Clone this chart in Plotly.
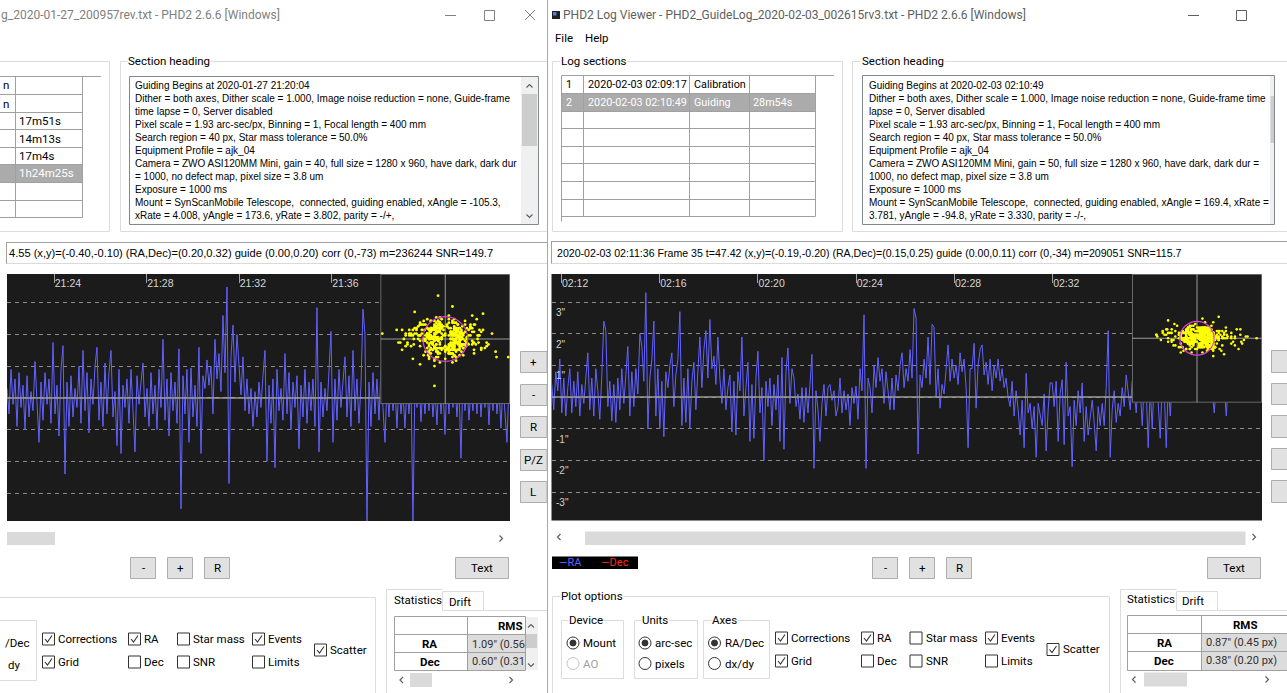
import math
import pandas as pd
import plotly.graph_objects as go

W, H = 1287, 693

# ---------------------------------------------------------------- data
# RA guide error (arc-sec) over the visible time window of each log section
RA_LEFT = [
    0.3, -0.5, 0.9, -0.2, 0.6, -0.9, 0.8, -0.3, 0.4, -1.0,
    0.7, -0.6, 0.2, -0.4, 1.15, -0.3, -1.4, 0.5, -0.7, 0.8,
    -0.2, 0.6, -0.8, 1.75, -0.5, 0.4, -1.2, 0.9, 1.65, -2.4,
    0.5, -0.9, 0.7, -0.6, 0.3, -0.3, 1.0, -0.8, 1.5, -0.4,
    0.8, -1.1, 0.6, -0.2, 1.0, 1.6, -0.7, 0.5, -0.9, 1.1,
    -0.5, 0.8, 1.5, -0.6, 0.2, -1.5, 0.9, -1.75, 0.4, -0.3,
    0.6, -0.8, 0.9, -0.4, -1.7, 0.7, -0.2, 0.5, 1.1, -0.6,
    0.3, -0.9, 0.8, -0.5, 0.4, -1.0, 0.9, -0.3, 1.85, -0.7,
    0.6, -1.2, 0.8, -0.4, 0.5, -0.8, 1.55, -3.5, 0.7, -0.5,
    0.9, -1.4, 0.95, -0.6, 0.4, -0.9, 1.6, -1.75, 0.7, 0.3,
    1.2, 0.4, 1.0, -0.5, 1.85, 0.6, 1.4, 0.2, 2.6, 0.8,
    3.5, -2.7, 1.3, 2.3, 0.5, 2.0, 0.9, 0.1, 1.3, -0.4,
    0.6, -0.5, 0.3, -0.9, 0.2, -0.6, 0.5, -0.3, 0.7, 1.5,
    -2.0, 0.4, -0.8, 0.6, -2.2, 0.9, -0.4, 0.3, -0.7, 1.4,
    -0.5, 0.8, -1.0, 0.5, -0.3, 0.7, -1.6, 0.4, -0.6, 0.9,
    -0.8, 0.5, -0.4, 0.6, -0.9, 2.85, -1.7, 0.5, -0.6, 0.3,
    -0.4, 0.8, 2.1, -1.4, 0.6, -0.7, 0.9, -0.3, 0.5, 1.3,
    -0.6, 0.7, -0.9, 1.5, -0.4, 0.6, -0.8, 0.4, 2.8, 2.0,
    -4.0, 0.5, -0.9, 0.8, -0.5, 0.6, -0.7, 0.9, -0.3, -1.4,
    0.5, -0.6, 0.7, -0.4, 0.3, -0.95, 0.6, -0.5, 0.2, -0.95,
    0.4, -0.5, 0.6, -4.0, 0.5, -0.3, 0.7, -0.75, 0.4, -0.5,
    0.6, -0.4, 0.5, -0.6, 0.3, -0.85, 0.7, -0.5, 0.4, -1.15,
    0.6, -0.5, 0.8, -0.3, 0.5, -0.6, 0.4, -1.9, 0.7, -0.4,
    0.5, -0.7, 0.3, -0.4, 0.6, -0.5, 0.8, -0.6, 0.4, -0.3,
    0.5, -0.85, 0.6, -0.4, 0.7, -0.5, 0.3, -0.95, 0.5, -0.6,
    -1.4, 0.4,
]
DEC_LEFT = [
    0.3, -0.5, 0.1, 0.7, -0.2, -0.8, 0.4, 0.0, -0.3, 0.6, -0.6, 0.2,
    0.9, -0.1, -0.4, 0.5, 0.2, -0.9, 0.1, 0.6, -0.5, 0.3, -0.2, 1.1,
    -0.7, 0.4, 0.0, -0.3, 0.8, -0.6, 0.2, -1.0, 0.5, 0.1, -0.4, 0.7,
    0.2, -0.5, 1.3, -0.1, 0.3, -0.7, 0.6, 0.0, -0.9, 0.4, -0.2, 0.5,
    -0.3, 0.8, -0.6, 0.1, 0.4, -1.2, 0.2, 0.7, -0.4, 0.0, 0.9, -0.5,
    0.3, -0.8, 0.5, -0.1, 1.5, -0.3, 0.1, -0.6, 0.4, 0.8, -0.2, -1.1,
    0.6, 0.0, -0.4, 0.3, -0.7, 0.9, 0.2, -0.3, 0.5, -0.9, 0.1, 0.4,
    -0.5, 1.0, -0.2, 0.3, -0.6, 0.6, 0.0, -1.4, 0.7, -0.1, 0.2, -0.4,
    0.8, -0.3, 0.5, -0.8, 0.1, 0.4, -0.5, 1.2, -0.2, 0.0, 0.6, -0.7,
    0.3, -0.1, -1.0, 0.5, 0.2, -0.4, 0.9, -0.6, 0.1, 0.7, -0.3, 2.4,
    -0.2, 0.4, -0.8, 0.0, 0.6, -0.5, 0.3, -1.3, 0.8, -0.1, 0.2, -0.6,
    0.5, 0.9, -0.4, 0.1, -0.7, 0.4, -0.2, 0.7, 0.0, -0.9, 0.3, 1.1,
    -0.5, 0.2, 0.6, -0.3, -2.6, 0.4, 0.1, -0.6, 0.8, -0.2, 0.5, -1.0,
    0.3, -0.4, 0.7, 0.0, -0.8, 0.2, 1.4, -0.1, 0.4, -0.6, 0.1, 0.9,
    -0.3, 0.5, -1.1, 0.2, 0.0, 0.6, -0.5, 0.3, -0.2, 1.0, -0.7, 0.4,
    0.1, -0.9, 0.5, -0.3, 0.7, 0.2, -0.6, 0.0, 0.8, -0.4, 0.3, -1.5,
    0.6, -0.1, 0.4, -0.7, 0.2, 0.9, -0.3, 0.1, -0.8, 0.5, 0.0, 0.3,
    -0.4, 1.2, -0.2, 0.6, -0.5, 0.1, 0.4, -1.0, 0.7, -0.1, 0.2, -0.6,
    0.8, -0.3, 0.0, 0.5, -0.7, 0.3, -0.2, 0.9, -0.5, 0.1, 1.8, -0.4,
    0.2, -0.8, 0.6, 0.0, -0.3, 0.4, -1.2, 0.7, 0.1, -0.5, 0.3, 0.5,
    -0.1, 0.4, -0.6, 0.8, -0.2, 0.0, 0.6, -0.9, 0.3, -0.4, 0.9, -0.2,
]
# further frames of the left section (outside the plotted window), RA / Dec
FRAMES_RA_LEFT = [
    -0.6, 0.2, -1.0, 0.5, -0.3, 0.9, -0.8, 0.0, 0.4, -1.2, 0.7, -0.1,
    -0.5, 1.0, -0.9, 0.3, -0.2, 0.6, -1.1, 0.1, 0.8, -0.4, -0.7, 0.5,
    0.2, -1.3, 0.4, -0.6, 1.1, -0.1, -0.9, 0.7, -0.3, 0.0, 0.9, -0.8,
    -0.2, 0.6, -1.0, 0.3, -0.5, 1.2, -0.7, 0.1, 0.5, -0.4, -1.1, 0.8,
    0.0, -0.6, 0.4, -0.9, 0.7, -0.2, 1.0, -1.2, 0.2, -0.5, 0.6, -0.8,
    -0.3, 0.9, -0.7, 0.1, -1.0, 0.5, -0.1, 0.8, -0.4, 0.3, -0.9, 1.1,
    0.4, -0.6, 0.0, -1.1, 0.6, -0.3, 0.2, -0.8, 0.9, -0.5, 0.7, -0.2,
    -1.0, 0.3, -0.4, 1.0, -0.7, 0.1, 0.5, -0.9, 0.2, -0.6, 0.8, -0.1,
    -1.6, 0.4, -2.2, 1.1, -0.7, 1.8, -1.3, 0.0, 0.9, -2.5, 1.4, -0.3,
    -1.0, 2.0, -1.9, 0.6, -0.5, 1.2, -2.1, 0.2, 1.6, -0.9, -1.4, 1.0,
    0.3, -2.4, 0.8, -1.2, 2.2, -0.2, -1.8, 1.4, -0.6, 0.1, 1.9, -1.5,
    -0.4, 1.2, -2.0, 0.6, -1.1, 2.4, -1.5, 0.2, 1.0, -0.8, -2.3, 1.6,
    0.0, -1.2, 0.8, -1.8, 1.5, -0.4, 2.1, -2.6, 0.4, -1.0, 1.2, -1.6,
    -0.6, 1.8, -1.4, 0.2, -2.0, 1.0, -0.2, 1.7, -0.8, 0.6, -1.9, 2.3,
    0.8, -1.3, 0.0, -2.2, 1.2, -0.6, 0.4, -1.7, 1.9, -1.0, 1.4, -0.4,
    -2.1, 0.6, -0.8, 2.0, -1.4, 0.2, 1.0, -1.8, 0.4, -1.2, 1.6, -0.2,
]
FRAMES_DEC_LEFT = [
    0.3, -0.4, 0.1, 0.6, -0.2, 0.0, 0.5, -0.7, 0.2, -0.1, 0.4, -0.5,
    0.7, -0.3, 0.2, 0.0, -0.6, 0.4, -0.1, 0.8, -0.4, 0.1, 0.5, -0.2,
    -0.5, 0.3, 0.0, 0.6, -0.3, 0.2, -0.7, 0.1, 0.4, -0.4, 0.3, 0.0,
    0.6, -0.1, 0.2, -0.6, 0.5, -0.2, 0.1, 0.7, -0.3, 0.4, 0.0, -0.5,
    0.2, 0.5, -0.4, 0.1, -0.2, 0.6, 0.3, -0.1, -0.8, 0.4, 0.0, 0.2,
    -0.3, 0.1, 0.5, -0.5, 0.3, 0.0, 0.7, -0.2, 0.4, -0.6, 0.1, -0.1,
    0.0, 0.3, -0.4, 0.2, -0.1, 0.6, -0.5, 0.4, 0.1, -0.3, 0.5, 0.0,
    -0.2, 0.4, 0.6, -0.3, 0.1, -0.5, 0.2, 0.3, -0.6, 0.0, -0.1, 0.5,
    0.5, -0.6, 0.2, 1.0, -0.3, 0.0, 0.8, -1.1, 0.3, -0.2, 0.6, -0.8,
    1.1, -0.5, 0.3, 0.0, -1.0, 0.6, -0.2, 1.3, -0.6, 0.2, 0.8, -0.3,
    -0.8, 0.5, 0.0, 1.0, -0.5, 0.3, -1.1, 0.2, 0.6, -0.6, 0.5, 0.0,
    1.0, -0.2, 0.3, -1.0, 0.8, -0.3, 0.2, 1.1, -0.5, 0.6, 0.0, -0.8,
    0.3, 0.8, -0.6, 0.2, -0.3, 1.0, 0.5, -0.2, -1.3, 0.6, 0.0, 0.3,
    -0.5, 0.2, 0.8, -0.8, 0.5, 0.0, 1.1, -0.3, 0.6, -1.0, 0.2, -0.2,
    0.0, 0.5, -0.6, 0.3, -0.2, 1.0, -0.8, 0.6, 0.2, -0.5, 0.8, 0.0,
    -0.3, 0.6, 1.0, -0.5, 0.2, -0.8, 0.3, 0.5, -1.0, 0.0, -0.2, 0.8,
]
RA_RIGHT = [
    0.4, -0.4, 0.8, 0.2, 1.2, -0.5, 0.6, -0.6, 0.3, 0.9,
    -0.5, 0.5, -0.3, 0.8, -0.6, 0.4, -0.2, 0.5, 1.4, -0.4,
    0.6, -0.6, 0.9, 0.2, -0.7, 0.7, 2.4, 2.1, -0.3, 0.5,
    -0.75, 0.4, -0.8, 0.6, -0.4, 0.9, -0.2, 0.7, 1.6, -0.6,
    0.8, -0.3, 0.9, 0.1, 2.0, 1.6, 0.5, 3.3, -1.0, 0.6,
    1.2, 2.4, -0.6, 0.9, -1.0, 0.5, -1.25, 0.8, 0.3, 1.0,
    1.4, -0.3, 0.7, 1.2, 2.7, -0.9, 0.6, -0.8, 0.9, -1.0,
    0.5, 1.1, -0.4, 0.8, 1.9, 0.3, 1.5, 2.1, 0.6, 2.45,
    0.9, 1.3, 0.4, 1.9, 0.6, -0.2, 0.9, -0.4, 0.3, 0.7,
    -1.1, 0.5, -1.2, 0.8, 0.2, 1.9, -0.6, 0.3, 1.1, -1.4,
    0.4, -1.3, 0.6, 1.45, -0.5, 0.3, -2.0, 0.5, -0.3, 0.6,
    -0.9, 0.4, -0.4, 0.7, -1.4, 1.25, -1.65, 0.8, 1.55, -0.2,
    0.9, 0.6, -0.3, 0.1, -0.7, 0.3, -0.8, 0.3, -0.5, 0.4,
    1.35, -2.25, 0.2, -0.4, -1.4, -0.2, 0.4, -0.6, 0.3, 0.4,
    -0.1, 0.2, -0.6, -0.3, 0.6, -0.5, 0.2, -0.4, 0.1, -0.9,
    0.3, -0.2, 0.35, -0.7, 0.9, 0.2, 2.6, -2.25, 0.6, 0.3,
    -0.5, 1.0, 0.3, 1.25, 0.5, 0.9, -0.2, 0.8, 0.1, -0.4,
    0.6, -0.4, 0.7, 0.2, 1.0, 1.4, 0.3, 0.9, 0.5, 1.5,
    0.6, 2.8, 2.5, -1.8, 0.7, 0.3, 1.2, 0.6, 1.9, 0.4,
    2.3, 2.2, 0.0, 0.9, -0.35, 0.4, 0.1, 0.8, 1.65, 0.5,
    1.2, 0.6, 1.0, 0.4, 1.4, 0.8, 1.2, 0.3, -1.6, 0.9,
    0.9, 1.7, -0.35, 1.0, 1.5, 1.65, 0.7, 1.1, 0.4, 1.2,
    0.2, 1.0, 0.6, 1.2, 0.5, 0.9, 0.3, 0.6, 0.0, -0.3,
    0.5, -0.6, 0.2, -0.4, -1.2, -0.1, -1.6, 0.75, -0.5, -0.2,
    -1.0, -0.3, -1.9, -0.2, -0.5, -0.9, 0.1, -1.7, -0.4, 0.45,
    0.45, -0.3, 0.5, -1.4, 0.1, 0.55, -1.5, 1.1, -0.6, -0.3,
    -2.2, -0.1, -0.9, 0.2, -0.5, 0.45, -1.4, -0.3, -1.2, -0.6,
    -0.1, -0.8, -1.7, -0.3, -0.9, -0.2, -0.9, 0.3, 2.1, -1.9,
    -0.4, 0.2, -0.8, -0.2, -0.6, 0.3, -0.3, 0.7, 0.2, -0.4,
    0.5, 0.2, -0.5, 0.6, 0.3, -0.9, 0.4, 0.2, -1.6, 0.3,
    -1.0, 0.6, 0.3, -0.2, -1.3, 0.5, 0.2, -1.6, 0.4, -0.6,
    0.5, 0.2, 0.8, 0.4, 0.1, 0.6, 0.3, 0.9, 0.2, 0.5,
    0.7, 0.3, 0.1, 0.6, 0.4, 0.9, 0.2, 0.5, 0.3, 0.7,
    0.1, -0.5, 0.4, 0.6, 0.2, 0.8, 0.3, -0.6, 0.5, 0.2,
    0.6, 0.3, 0.8, 0.4, 0.2, 0.5,
]
DEC_RIGHT = [
    0.2, -0.3, 0.5, 0.0, -0.1, 0.4, -0.5, 0.3, 0.1, -0.2, 0.6, -0.4,
    0.1, 0.3, -0.6, 0.2, 0.0, -0.3, 0.4, 0.7, -0.2, 0.1, -0.5, 0.3,
    -0.1, 0.5, 0.2, -0.4, 0.0, 0.3, -0.7, 0.1, 0.4, -0.2, 0.2, 0.9,
    -0.3, 0.0, 0.4, -0.1, 0.2, -0.5, 0.3, 0.1, -0.2, 0.6, -0.4, 0.0,
    0.3, -0.6, 0.1, 0.5, -0.2, 0.0, 0.2, -0.3, 0.8, -0.1, 0.4, -0.5,
    0.0, 0.2, -0.4, 0.3, 0.1, -0.8, 0.5, -0.1, 0.2, 0.0, -0.3, 0.4,
    0.6, -0.2, 0.1, -0.5, 0.3, 0.0, 0.4, -0.2, -1.0, 0.2, 0.1, -0.3,
    0.5, 0.0, -0.1, 0.3, -0.4, 0.2, 0.7, -0.3, 0.1, -0.6, 0.4, 0.0,
    -0.2, 0.3, 0.1, -0.1, 0.5, -0.4, 0.2, 0.0, -0.3, 1.1, -0.1, 0.3,
    0.2, -0.5, 0.0, 0.4, -0.2, 0.1, 0.3, -0.6, 0.5, -0.1, 0.0, 0.2,
    -0.3, 0.6, -0.1, 0.2, 0.0, -0.4, 0.3, 0.1, -0.2, 0.4, -0.7, 0.2,
    0.1, -0.2, 0.5, -0.3, 0.0, 0.3, -0.1, 0.2, 0.8, -0.4, 0.1, -0.2,
    0.4, 0.0, -0.5, 0.2, 0.1, -0.3, 0.6, -0.1, 0.3, 0.0, -0.6, 0.4,
    -0.1, 0.2, 0.3, -0.8, 0.5, 0.0, -0.2, 0.4, 0.1, -0.3, 0.2, 0.7,
    0.0, -0.4, 0.2, 0.3, -0.1, 0.5, -0.5, 0.1, 0.0, 0.3, -0.2, -0.9,
    0.4, 0.1, -0.3, 0.2, 0.6, -0.1, 0.0, -0.4, 0.3, 0.2, -0.6, 0.5,
    -0.2, 0.3, 0.1, -0.5, 0.4, 0.0, 0.2, -0.1, 1.2, -0.3, 0.1, 0.4,
    -0.4, 0.2, 0.0, 0.5, -0.2, 0.3, -0.7, 0.1, 0.4, -0.1, 0.2, 0.0,
    0.3, -0.3, 0.6, -0.1, 0.1, -0.5, 0.2, 0.4, -0.2, 0.0, 0.5, -0.4,
    0.1, 0.7, -0.3, 0.2, 0.0, -0.2, 0.4, -0.6, 0.3, 0.1, -0.1, 0.5,
    -0.5, 0.0, 0.3, -0.2, 0.6, 0.1, -0.4, 0.2, 0.0, 0.9, -0.3, 0.1,
    0.4, -0.1, 0.2, -0.7, 0.3, 0.0, 0.5, -0.3, 0.1, 0.2, -0.5, 0.3,
    0.0, 0.6, -0.2, 0.1, -0.4, 0.3, 0.2, -0.1, 0.5, -0.8, 0.0, 0.2,
    0.3, -0.3, 0.1, 0.4, -0.6, 0.2, 0.0, 0.7, -0.2, 0.1, 0.3, -0.4,
    -0.1, 0.2, 0.5, -0.5, 0.0, 0.3, -0.2, 0.1, 0.4, -0.3, 1.0, 0.0,
    0.2, -0.4, 0.3, 0.1, -0.1, 0.6, -0.3, 0.0, 0.2, -0.6, 0.4, 0.1,
    -0.2, 0.5, 0.0, -0.4, 0.3, 0.2, -0.1, 0.4, -0.5, 0.1, 0.0, 0.3,
    0.6, -0.2, 0.1, 0.3, -0.3, 0.0, 0.5, -0.1, 0.2, -0.4, 0.3, 0.1,
    -0.3, 0.4, 0.0, 0.2, -0.5, 0.1, 0.3, -0.2, 0.6, 0.0,
]
FRAMES_RA_RIGHT = [
    0.3, -0.5, 0.7, -0.1, 0.5, -0.8, 0.1, 0.9, -0.3, 0.4, -0.6, 0.2,
    0.8, -0.2, 0.0, -0.7, 0.6, 0.3, -0.4, 1.0, -0.9, 0.2, 0.5, -0.1,
    -0.5, 0.7, 0.1, -0.3, 0.9, -0.6, 0.4, 0.0, -0.8, 0.6, 0.2, -0.2,
    0.5, -0.4, 0.8, 0.1, -0.7, 0.3, -0.1, 0.7, -0.5, 0.9, 0.0, -0.3,
    0.2, 0.6, -0.6, 0.4, -0.2, 1.1, -0.4, 0.1, 0.7, -0.8, 0.3, 0.5,
    -0.1, 0.8, -0.5, 0.0, 0.4, -0.3, 0.6, 0.2, -0.7, 0.9, -0.2, 0.3,
    0.7, -0.6, 0.1, 0.5, -0.4, 0.0, 0.8, -0.1, 0.3, -0.8, 0.6, 0.2,
    -0.3, 0.4, 1.0, -0.5, 0.2, 0.7, -0.2, 0.5, -0.6, 0.1, 0.3, -0.1,
]
FRAMES_DEC_RIGHT = [
    0.1, -0.3, 0.4, 0.0, -0.2, 0.3, -0.5, 0.2, 0.5, -0.1, 0.0, 0.3,
    -0.4, 0.2, 0.6, -0.2, 0.1, -0.5, 0.3, 0.0, 0.2, -0.3, 0.4, -0.1,
    0.5, -0.2, 0.0, 0.3, -0.4, 0.1, 0.2, -0.6, 0.4, 0.0, -0.1, 0.5,
    -0.3, 0.2, 0.1, -0.5, 0.3, 0.6, -0.2, 0.0, 0.4, -0.4, 0.2, 0.1,
    0.0, -0.1, 0.3, 0.5, -0.3, 0.2, -0.6, 0.4, 0.1, 0.0, -0.2, 0.3,
    0.4, -0.5, 0.0, 0.2, 0.1, -0.3, 0.5, -0.1, 0.3, 0.0, -0.4, 0.2,
    -0.2, 0.3, 0.6, -0.1, 0.0, 0.4, -0.3, 0.1, 0.2, -0.5, 0.0, 0.3,
    0.5, -0.2, 0.1, 0.3, -0.4, 0.0, 0.2, -0.1, 0.4, -0.3, 0.1, 0.0,
]

# frame clock of each section (start time, seconds per sample)
LEFT_T0, LEFT_DT = "2020-01-27 21:21:57.3", 5.19
RIGHT_T0, RIGHT_DT = "2020-02-03 02:11:36.3", 4.89
LEFT_WINDOW = ["2020-01-27 21:21:57.3", "2020-01-27 21:43:42.7"]
RIGHT_WINDOW = ["2020-02-03 02:11:35.6", "2020-02-03 02:40:31.5"]
LEFT_TICK0 = "2020-01-27 21:24:00"
RIGHT_TICK0 = "2020-02-03 02:12:00"
GRID_LABELS = [3, 2, 1, -1, -2, -3]

# RMS statistics: arc-sec and pixels
STATS_LEFT = {"RA": (1.09, 0.56), "Dec": (0.60, 0.31)}
STATS_RIGHT = {"RA": (0.87, 0.45), "Dec": (0.38, 0.20)}

LEFT_SECTIONS = ["17m51s", "14m13s", "17m4s", "1h24m25s"]
RIGHT_SECTIONS = [
    ("1", "2020-02-03 02:09:17", "Calibration", ""),
    ("2", "2020-02-03 02:10:49", "Guiding", "28m54s"),
]
HEADING_LEFT = [
    "Guiding Begins at 2020-01-27 21:20:04",
    "Dither = both axes, Dither scale = 1.000, Image noise reduction = none, Guide-frame",
    "time lapse = 0, Server disabled",
    "Pixel scale = 1.93 arc-sec/px, Binning = 1, Focal length = 400 mm",
    "Search region = 40 px, Star mass tolerance = 50.0%",
    "Equipment Profile = ajk_04",
    "Camera = ZWO ASI120MM Mini, gain = 40, full size = 1280 x 960, have dark, dark dur",
    "= 1000, no defect map, pixel size = 3.8 um",
    "Exposure = 1000 ms",
    "Mount = SynScanMobile Telescope,  connected, guiding enabled, xAngle = -105.3,",
    "xRate = 4.008, yAngle = 173.6, yRate = 3.802, parity = -/+,",
]
HEADING_RIGHT = [
    "Guiding Begins at 2020-02-03 02:10:49",
    "Dither = both axes, Dither scale = 1.000, Image noise reduction = none, Guide-frame time",
    "lapse = 0, Server disabled",
    "Pixel scale = 1.93 arc-sec/px, Binning = 1, Focal length = 400 mm",
    "Search region = 40 px, Star mass tolerance = 50.0%",
    "Equipment Profile = ajk_04",
    "Camera = ZWO ASI120MM Mini, gain = 50, full size = 1280 x 960, have dark, dark dur =",
    "1000, no defect map, pixel size = 3.8 um",
    "Exposure = 1000 ms",
    "Mount = SynScanMobile Telescope,  connected, guiding enabled, xAngle = 169.4, xRate =",
    "3.781, yAngle = -94.8, yRate = 3.330, parity = -/-,",
]
STATUS_LEFT = "4.55 (x,y)=(-0.40,-0.10) (RA,Dec)=(0.20,0.32) guide (0.00,0.20) corr (0,-73) m=236244 SNR=149.7"
STATUS_RIGHT = ("2020-02-03 02:11:36 Frame 35 t=47.42 (x,y)=(-0.19,-0.20) (RA,Dec)=(0.15,0.25) "
                "guide (0.00,0.11) corr (0,-34) m=209051 SNR=115.7")

# ---------------------------------------------------------------- styling
UI = "Roboto"
TXT = "Liberation Sans"
RA_COLOR = "#6262ff"
DEC_COLOR = "#ff2a1a"
PLOT_BG = "#1b1b1b"
BTN_FILL, BTN_LINE = "#e1e1e1", "#adadad"
GROUP_LINE = "#dcdcdc"
GRID_LINE = "#a0a0a0"

shapes, annos = [], []


def X(px):
    return px / W


def Y(py):
    return 1 - py / H


def rect(x0, y0, x1, y1, fill="rgba(0,0,0,0)", line=None, lw=1):
    shapes.append(dict(type="rect", xref="paper", yref="paper",
                       x0=X(x0), x1=X(x1), y0=Y(y1), y1=Y(y0), fillcolor=fill,
                       line=dict(color=line or "rgba(0,0,0,0)", width=lw if line else 0),
                       layer="above"))


def seg(x0, y0, x1, y1, color=GRID_LINE, lw=1):
    shapes.append(dict(type="line", xref="paper", yref="paper",
                       x0=X(x0), y0=Y(y0), x1=X(x1), y1=Y(y1),
                       line=dict(color=color, width=lw), layer="above"))


def poly(points, color, lw=1.0):
    path = "M " + " L ".join(f"{X(a):.6f},{Y(b):.6f}" for a, b in points)
    shapes.append(dict(type="path", xref="paper", yref="paper", path=path,
                       line=dict(color=color, width=lw), layer="above"))


def circle(cx, cy, r, fill, line, lw=1):
    shapes.append(dict(type="circle", xref="paper", yref="paper",
                       x0=X(cx - r), x1=X(cx + r), y0=Y(cy + r), y1=Y(cy - r),
                       fillcolor=fill, line=dict(color=line, width=lw), layer="above"))


def text(x, y, s, size=11.5, color="#000000", family=UI, anchor="left", bg=None):
    d = dict(xref="paper", yref="paper", x=X(x), y=Y(y), text=s, showarrow=False,
             xanchor=anchor, yanchor="middle", borderpad=0,
             font=dict(family=family, size=size, color=color))
    if bg:
        d["bgcolor"] = bg
    annos.append(d)


def chevron(cx, cy, d, color="#606060", s=3.0):
    pts = {
        "up": [(cx - s, cy + s / 2), (cx, cy - s / 2), (cx + s, cy + s / 2)],
        "down": [(cx - s, cy - s / 2), (cx, cy + s / 2), (cx + s, cy - s / 2)],
        "left": [(cx + s / 2, cy - s), (cx - s / 2, cy), (cx + s / 2, cy + s)],
        "right": [(cx - s / 2, cy - s), (cx + s / 2, cy), (cx - s / 2, cy + s)],
    }[d]
    poly(pts, color, 1.2)


def button(x0, y0, x1, y1, label, cx=None):
    rect(x0, y0, x1, y1, BTN_FILL, BTN_LINE)
    text(cx if cx is not None else (x0 + x1) / 2, (y0 + y1) / 2, label, 11.5, anchor="center")


def checkbox(bx, cy, label, checked):
    rect(bx + 0.5, cy - 5.5, bx + 12.5, cy + 6.5, "#ffffff", "#333333")
    if checked:
        poly([(bx + 3, cy + 0.5), (bx + 5.5, cy + 3.5), (bx + 10, cy - 3)], "#333333", 1.1)
    text(bx + 15, cy, label)


def radio(cx, cy, label, on, enabled=True):
    col = "#333333" if enabled else "#c4c4c4"
    circle(cx, cy, 6, "#ffffff", col)
    if on:
        circle(cx, cy, 3, col, col)
    text(cx + 9, cy, label, color="#000000" if enabled else "#a0a0a0")


def group(x0, y0, x1, y1, label=None, lx=None):
    rect(x0, y0, x1, y1, line=GROUP_LINE)
    if label:
        text(lx, y0 - 0.5, label, bg="#ffffff")


# ---------------------------------------------------------------- left window
text(0, 15, "g_2020-01-27_200957rev.txt - PHD2 2.6.6 [Windows]", 12, "#808080")
seg(445, 15.5, 456, 15.5, "#808080")
rect(484.5, 10.5, 494.5, 20.5, line="#808080")
seg(525, 10, 535, 20, "#808080")
seg(525, 20, 535, 10, "#808080")

rect(-5, 61.5, 109.5, 231.5, line=GROUP_LINE)
rect(0, 164.5, 82.5, 182.5, "#ababab")
seg(0, 76.5, 101, 76.5)
seg(15.5, 76.5, 15.5, 217.5)
seg(82.5, 76.5, 82.5, 217.5)
for yy in [94.5, 112.5, 129.5, 147.5, 164.5, 182.5, 200.5, 217.5]:
    seg(0, yy, 82.5, yy)
text(2, 85.5, "n")
text(2, 103.5, "n")
for k, lab in enumerate(LEFT_SECTIONS):
    sel = k == len(LEFT_SECTIONS) - 1
    text(18, [121, 138.5, 156, 173.5][k], lab, color="#ffffff" if sel else "#000000")

seg(120.5, 61.5, 547, 61.5, GROUP_LINE)
seg(120.5, 61.5, 120.5, 231.5, GROUP_LINE)
seg(120.5, 231.5, 547, 231.5, GROUP_LINE)
text(127, 60.5, "Section heading", bg="#ffffff")
rect(129.5, 76.5, 538.5, 224.5, "#ffffff", "#828790")
rect(521, 77, 538, 224, "#f0f0f0")
rect(522, 94, 537, 146, "#cdcdcd")
chevron(529.5, 86, "up")
chevron(529.5, 216, "down")
for k, line in enumerate(HEADING_LEFT):
    text(134, 85.5 + 13.0 * k, line, 10, "#000000", TXT)

seg(6, 242.5, 547, 242.5, "#a0a0a0")
seg(6, 263.5, 547, 263.5, "#dadada")
seg(6.5, 242.5, 6.5, 263.5, "#a0a0a0")
text(8, 253, STATUS_LEFT, 11.1, "#000000", TXT)

for y0, y1, lab in [(351, 372, "+"), (384, 405, "-"), (416, 437, "R"), (449, 470, "P/Z"), (481, 502, "L")]:
    button(520.5, y0 + 0.5, 547, y1 + 0.5, lab, cx=533)

rect(7, 532, 55, 545, "#dadada")
chevron(501, 538.5, "right")

button(130.5, 557.5, 155.5, 578.5, "-")
button(167.5, 557.5, 192.5, 578.5, "+")
button(204.5, 557.5, 229.5, 578.5, "R")
button(455.5, 557.5, 508.5, 578.5, "Text")

seg(0, 597.5, 375.5, 597.5, GROUP_LINE)
seg(375.5, 597.5, 375.5, 693, GROUP_LINE)
seg(0, 620.5, 36.5, 620.5, GROUP_LINE)
seg(36.5, 620.5, 36.5, 680.5, GROUP_LINE)
seg(0, 680.5, 36.5, 680.5, GROUP_LINE)
text(4, 643, "/Dec")
text(7, 665, "dy")

checkbox(42, 638.5, "Corrections", True)
checkbox(42, 661.5, "Grid", True)
checkbox(128, 638.5, "RA", True)
checkbox(128, 661.5, "Dec", False)
checkbox(177, 638.5, "Star mass", False)
checkbox(177, 661.5, "SNR", False)
checkbox(252, 638.5, "Events", True)
checkbox(252, 661.5, "Limits", False)
checkbox(314, 649.5, "Scatter", True)

seg(386.5, 589.5, 442.5, 589.5, GROUP_LINE)
seg(386.5, 589.5, 386.5, 693, GROUP_LINE)
rect(442.5, 591.5, 483.5, 610.5, line=GROUP_LINE)
seg(483.5, 610.5, 547, 610.5, GROUP_LINE)
text(393, 599.5, "Statistics")
text(448, 601.5, "Drift")
rect(468, 635, 525, 652, "#dcdcdc")
rect(468, 653, 525, 670, "#dcdcdc")
rect(394.5, 616.5, 525.5, 670.5, line=GRID_LINE)
seg(394.5, 634.5, 525.5, 634.5)
seg(394.5, 652.5, 525.5, 652.5)
seg(467.5, 616.5, 467.5, 670.5)
text(524, 626, "<b>RMS</b>", anchor="right")
text(430, 644, "<b>RA</b>", anchor="center")
text(430, 661.5, "<b>Dec</b>", anchor="center")
for k, ax in enumerate(["RA", "Dec"]):
    asec, pix = STATS_LEFT[ax]
    text(471, [644, 661.5][k], f'{asec:.2f}" ({pix:.2f}', 11, "#303030")
rect(526, 617, 538, 670, "#f0f0f0")
rect(526, 634, 537, 648, "#cdcdcd")
chevron(531, 626, "up")
chevron(531, 665, "down")
chevron(401.5, 680, "left")
rect(410, 673, 432, 687, "#dadada")
chevron(511, 680, "right")

# border of the right-hand window
seg(547.5, 0, 547.5, 693, "#a8a8a8")

# ---------------------------------------------------------------- right window
rect(552, 11, 560, 19, "#202020")
rect(553, 12, 556.5, 15.5, "#4f7fd0")
text(562, 15, "PHD2 Log Viewer - PHD2_GuideLog_2020-02-03_002615rv3.txt - PHD2 2.6.6 [Windows]", 12, "#606060")
seg(1188, 15.5, 1199, 15.5, "#606060")
rect(1236.5, 10.5, 1246.5, 20.5, line="#606060")

text(553.5, 38, "File")
text(584, 38, "Help")

group(552.5, 61.5, 842.5, 231.5, "Log sections", 560)
rect(561.5, 93.5, 815.5, 111.5, "#ababab")
seg(561.5, 75.5, 834, 75.5)
for xx in [583.5, 689.5, 749.5, 815.5]:
    seg(xx, 75.5, xx, 216.5)
seg(561.5, 75.5, 561.5, 221.5)
for yy in [93.5, 111.5, 128.5, 146.5, 163.5, 181.5, 199.5, 216.5]:
    seg(561.5, yy, 815.5, yy)
for k, (num, when, kind, dur) in enumerate(RIGHT_SECTIONS):
    cy = [84.5, 102.5][k]
    col = "#ffffff" if k == 1 else "#000000"
    text(565, cy, num, 10.8, col)
    text(586.5, cy, when, 10.8, col)
    text(693, cy, kind, 10.8, col)
    if dur:
        text(752, cy, dur, 10.8, col)

seg(852.5, 61.5, 1287, 61.5, GROUP_LINE)
seg(852.5, 61.5, 852.5, 231.5, GROUP_LINE)
seg(852.5, 231.5, 1287, 231.5, GROUP_LINE)
text(861, 60.5, "Section heading", bg="#ffffff")
rect(862.5, 75.5, 1274.5, 224.5, "#ffffff", "#828790")
rect(1270, 76, 1274, 224, "#f0f0f0")
rect(1270.5, 96, 1274, 143, "#cdcdcd")
for k, line in enumerate(HEADING_RIGHT):
    text(868, 85.5 + 13.0 * k, line, 10, "#000000", TXT)

seg(551, 241.5, 1287, 241.5, "#a0a0a0")
seg(551, 263.5, 1287, 263.5, "#dadada")
seg(551.5, 241.5, 551.5, 263.5, "#a0a0a0")
text(556, 252.5, STATUS_RIGHT, 10.6, "#000000", TXT)

for y0, y1 in [(350, 372), (383, 404), (415, 437), (448, 469), (480, 502)]:
    rect(1271.5, y0 + 0.5, 1295, y1 + 0.5, BTN_FILL, BTN_LINE)

chevron(559, 537, "left")
rect(585, 531.5, 1245.5, 545, "#dadada")
chevron(1254, 537, "right")

rect(552, 556.5, 638, 569, "#000000")
text(558, 562.5, "—RA", 11, RA_COLOR)
text(600, 562.5, "—Dec", 11, DEC_COLOR)

button(872.5, 557.5, 897.5, 578.5, "-")
button(909.5, 557.5, 934.5, 578.5, "+")
button(946.5, 557.5, 971.5, 578.5, "R")
button(1207.5, 557.5, 1260.5, 578.5, "Text")

group(552.5, 596.5, 1109.5, 700, "Plot options", 560)
group(561.5, 620.5, 623.5, 678.5, "Device", 568)
radio(573, 643, "Mount", True)
radio(573, 663.5, "AO", False, enabled=False)
group(634.5, 620.5, 697.5, 678.5, "Units", 641)
radio(645, 643, "arc-sec", True)
radio(645, 663.5, "pixels", False)
group(703.5, 620.5, 769.5, 678.5, "Axes", 711)
radio(714.5, 643, "RA/Dec", True)
radio(714.5, 663.5, "dx/dy", False)

checkbox(775, 637.5, "Corrections", True)
checkbox(775, 660.5, "Grid", True)
checkbox(861, 637.5, "RA", True)
checkbox(861, 660.5, "Dec", False)
checkbox(909.5, 637.5, "Star mass", False)
checkbox(909.5, 660.5, "SNR", False)
checkbox(985, 637.5, "Events", True)
checkbox(985, 660.5, "Limits", False)
checkbox(1046.5, 649, "Scatter", True)

seg(1120.5, 589.5, 1176.5, 589.5, GROUP_LINE)
seg(1120.5, 589.5, 1120.5, 693, GROUP_LINE)
rect(1176.5, 591.5, 1217.5, 610.5, line=GROUP_LINE)
seg(1217.5, 610.5, 1287, 610.5, GROUP_LINE)
text(1126, 599, "Statistics")
text(1181, 601, "Drift")
rect(1202, 634, 1290, 651, "#dcdcdc")
rect(1202, 652, 1290, 670, "#dcdcdc")
rect(1127.5, 615.5, 1295, 670.5, line=GRID_LINE)
seg(1127.5, 633.5, 1287, 633.5)
seg(1127.5, 651.5, 1287, 651.5)
seg(1201.5, 615.5, 1201.5, 670.5)
text(1245, 624.5, "<b>RMS</b>", anchor="center")
text(1164, 642.5, "<b>RA</b>", anchor="center")
text(1164, 660.5, "<b>Dec</b>", anchor="center")
for k, ax in enumerate(["RA", "Dec"]):
    asec, pix = STATS_RIGHT[ax]
    text(1205, [642.5, 660.5][k], f'{asec:.2f}" ({pix:.2f} px)', 11, "#303030")
chevron(1134, 679.5, "left")
rect(1144, 672.5, 1187, 686.5, "#dadada")
chevron(1267, 679.5, "right")

# ---------------------------------------------------------------- plots
fig = go.Figure()

t_left = pd.date_range(LEFT_T0, periods=len(RA_LEFT), freq=pd.Timedelta(seconds=LEFT_DT))
t_right = pd.date_range(RIGHT_T0, periods=len(RA_RIGHT), freq=pd.Timedelta(seconds=RIGHT_DT))

SC = 3.6  # half-width of the scatter inset, arc-sec


def add_panel(ts, ra, dec, extra_ra, extra_dec, window, stats, n, msize):
    xa, ya = ("x", "y") if n == 1 else (f"x{n}", f"y{n}")
    xi, yi = f"x{n + 1}", f"y{n + 1}"
    fig.add_trace(go.Scatter(x=ts, y=ra, mode="lines", line=dict(color=RA_COLOR, width=1),
                             xaxis=xa, yaxis=ya, hoverinfo="skip", showlegend=False))
    fig.add_trace(go.Scatter(x=window, y=[0, 0], mode="lines", line=dict(color="#9c9c9c", width=1.5),
                             xaxis=xa, yaxis=ya, hoverinfo="skip", showlegend=False))
    # scatter inset: background, crosshair, RA/Dec points, RMS circle
    fig.add_trace(go.Scatter(x=[-SC, SC, SC, -SC, -SC], y=[-SC, -SC, SC, SC, -SC], mode="lines",
                             fill="toself", fillcolor=PLOT_BG, line=dict(color="#808080", width=1.5),
                             xaxis=xi, yaxis=yi, hoverinfo="skip", showlegend=False))
    fig.add_trace(go.Scatter(x=[-SC, SC, None, 0, 0], y=[0, 0, None, -SC, SC], mode="lines",
                             line=dict(color="#9a9a9a", width=1), xaxis=xi, yaxis=yi,
                             hoverinfo="skip", showlegend=False))
    pairs = list(zip(ra, dec)) + list(zip(extra_ra, extra_dec))
    fig.add_trace(go.Scatter(x=[p[0] for p in pairs], y=[p[1] for p in pairs], mode="markers",
                             marker=dict(color="#ffff00", size=msize, line=dict(width=0)),
                             xaxis=xi, yaxis=yi, hoverinfo="skip", showlegend=False, cliponaxis=True))
    r = math.hypot(stats["RA"][0], stats["Dec"][0])
    shapes.append(dict(type="circle", xref=xi, yref=yi, x0=-r, x1=r, y0=-r, y1=r,
                       line=dict(color="#e040e0", width=1.2), layer="above"))


add_panel(t_left, RA_LEFT, DEC_LEFT, FRAMES_RA_LEFT, FRAMES_DEC_LEFT, LEFT_WINDOW, STATS_LEFT, 1, 2.8)
add_panel(t_right, RA_RIGHT, DEC_RIGHT, FRAMES_RA_RIGHT, FRAMES_DEC_RIGHT, RIGHT_WINDOW, STATS_RIGHT, 3, 2.6)

for v in GRID_LABELS:
    annos.append(dict(xref="x3 domain", yref="y3", x=0.0035, y=v, text=f'{v}"',
                      showarrow=False, xanchor="left", yanchor="top", yshift=-3,
                      font=dict(family=TXT, size=10, color="#d0d0d0")))


def main_x(dom, window, tick0):
    return dict(domain=dom, range=window, type="date", side="top", tick0=tick0, dtick=240000,
                tickformat="%H:%M", ticks="inside", ticklen=9, tickwidth=1, tickcolor="#a0a0a0",
                ticklabelposition="inside right",
                tickfont=dict(family=TXT, size=10.5, color="#d6d6d6"),
                showgrid=False, zeroline=False, showline=False, fixedrange=True)


def main_y(dom, rng):
    return dict(domain=dom, range=rng, dtick=1, tick0=0, showgrid=True, gridcolor="#8a8a8a",
                griddash="4px,4px", gridwidth=1, zeroline=False, showticklabels=False,
                ticks="", showline=False, fixedrange=True)


def inset(dom):
    return dict(domain=dom, range=[-SC, SC], visible=False, fixedrange=True)


fig.update_layout(
    width=W, height=H, autosize=False,
    margin=dict(l=0, r=0, t=0, b=0, pad=0),
    paper_bgcolor="#ffffff", plot_bgcolor=PLOT_BG,
    showlegend=False,
    xaxis=main_x([X(7), X(510)], LEFT_WINDOW, LEFT_TICK0),
    yaxis=main_y([Y(521), Y(274)], [-3.88, 3.91]),
    xaxis2=inset([X(380.5), X(510)]),
    yaxis2=inset([Y(404), Y(274)]),
    xaxis3=main_x([X(551.5), X(1262)], RIGHT_WINDOW, RIGHT_TICK0),
    yaxis3=main_y([Y(520.5), Y(274)], [-3.9, 3.89]),
    xaxis4=inset([X(1132), X(1262)]),
    yaxis4=inset([Y(402.5), Y(274)]),
    shapes=shapes,
    annotations=annos,
)
fig.update_layout(xaxis=dict(anchor="y"), yaxis=dict(anchor="x"),
                  xaxis2=dict(anchor="y2"), yaxis2=dict(anchor="x2"),
                  xaxis3=dict(anchor="y3"), yaxis3=dict(anchor="x3"),
                  xaxis4=dict(anchor="y4"), yaxis4=dict(anchor="x4"))

fig.write_html("out.html", config={"displayModeBar": False, "staticPlot": True})
